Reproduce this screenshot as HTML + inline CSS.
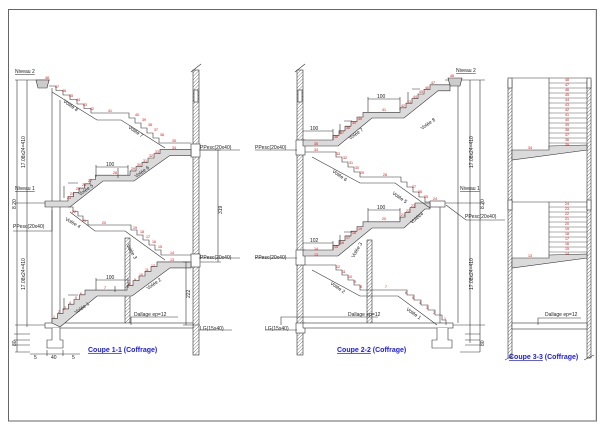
<!DOCTYPE html>
<html><head><meta charset="utf-8"><style>
html,body{margin:0;padding:0;background:#fff;}
svg{display:block;font-family:"Liberation Sans",sans-serif;}
.t{font-size:5px;fill:#222}
.r{font-size:3.6px;fill:#e00}
.c{font-size:7px;font-weight:bold;fill:#1a1aee}
</style></head><body>
<svg width="604" height="427" viewBox="0 0 604 427" xmlns="http://www.w3.org/2000/svg">
<defs>
<pattern id="h" width="3.5" height="3.5" patternUnits="userSpaceOnUse"><path d="M0,3.5 L3.5,0" stroke="#444" stroke-width="0.45"/></pattern>
</defs>
<rect x="0" y="0" width="604" height="427" fill="#fff"/>
<rect x="8.5" y="9.5" width="588" height="411.5" fill="none" stroke="#666" stroke-width="1"/>

<g stroke="#333" stroke-width="0.6" fill="none">
<!-- ========== COUPE 1-1 ========== -->
<!-- right wall -->
<rect x="193" y="70" width="6" height="285" fill="url(#h)"/>
<path d="M191,72 L201,64"/>
<rect x="194" y="90" width="4" height="12" fill="#fff"/>
<rect x="191" y="144" width="9" height="13" fill="#fff"/>
<rect x="191" y="254" width="9" height="13" fill="#fff"/>
<!-- mid wall -->
<rect x="125" y="238" width="5" height="87" fill="url(#h)"/>
<!-- verticals left -->
<path d="M17,80 V352 M27,80 V327 M52,88 V323 M60,100 V320 M15,80 H50 M15,203 H62 M15,325 H50 M15,352 H30"/>
<path d="M14,334 H30 M14,340 H30 M14,345 H30"/>
<!-- ground slab -->
<rect x="45" y="323" width="148" height="5" fill="#fff"/>
<!-- foundation -->
<path d="M52,328 V340 H47 V348 H63 V340 H60 V328" fill="#fff"/>
<path d="M30,354 H80 M47,350 V356 M63,350 V356"/>
<!-- Niveau 2 block -->
<path d="M36,80 H49 L47,88 H38 Z" fill="#ccc"/>
<!-- flight A shaded (Volee 1,2) -->
<path d="M52,323 v-4.7h5.5 v-4.7h5.5 v-4.7h5.5 v-4.7h5.5 v-4.7h5.5 v-4.7h5.5 v-4.7h5 H127 v-4.7h6 v-4.7h6 v-4.7h6 v-4.7h6 v-4.7h6 v-4.7h6 H191 v6 H170 L132,296 H97 L60,327 Z" fill="#dadada"/>
<!-- flight B shaded (Volee 5,6) -->
<path d="M45,201 H68 v-4.3h5.5 v-4.3h5.5 v-4.3h5.5 v-4.3h5.5 v-4.3h5.5 v-4.3h5.5 H130 v-4.3h6 v-4.3h6 v-4.3h6 v-4.3h6 v-4.3h6 v-4.3h6 H191 v6 H170 L134,181 H103 L70,207 H45 Z" fill="#dadada"/>
<!-- flight C lines (Volee 3,4) -->
<path d="M68,207 h5 v4.5 h5 v4.5 h5 v4.5 h5 v4.5 H125 h6 v5 h6 v5 h6 v5 h6 v5 h6 v5 h6 v5 H191"/>
<path d="M70,212 L95,231 H125 L165,260"/>
<!-- flight D lines (Volee 8,7) -->
<path d="M49,86 h7 v4.5 h7 v4.5 h7 v4.5 h7 v4.5 h7 v4.5 h7 v4.5 H123 h6 v5 h6 v5 h6 v5 h6 v5 h6 v5 h6 v5 H191"/>
<path d="M52,92 L97,120 H121 L165,148"/>
<!-- dims -->
<path d="M96,167 H128 M96,165 V177 M128,165 V175 M96,280 H128 M96,278 V290 M128,278 V288"/>
<path d="M218,150 V262 M200,150 H221 M200,262 H221 M186,262 V325 M183,262 H189 M183,325 H200"/>
<path d="M64,186 V198 M68,183 H78 M64,298 V310 M68,295 H78 M118,168 V178 M115,286 V292"/>
<!-- leaders -->
<path d="M131,325 V317 H178 M13,231 H52 V210 M199,150 H240 M199,258 H240 M199,330 H232"/>
</g>

<!-- COUPE 1-1 text -->
<text class="t" x="15" y="73" text-decoration="underline">Niveau 2</text>
<text class="t" x="15" y="190" text-decoration="underline">Niveau 1</text>
<text class="t" x="13" y="228">PPesc(20x40)</text>
<text class="t" x="200" y="149">PPesc(20x40)</text>
<text class="t" x="200" y="259">PPesc(20x40)</text>
<text class="t" x="200" y="330">LG(15x40)</text>
<text class="t" x="134" y="316">Dallage ep=12</text>
<text class="t" x="106" y="166">100</text>
<text class="t" x="106" y="279">100</text>
<text class="t" transform="translate(25,168) rotate(-90)">17.08x24=410</text>
<text class="t" transform="translate(25,290) rotate(-90)">17.08x24=410</text>
<text class="t" transform="translate(16,209) rotate(-90)">8.20</text>
<text class="t" transform="translate(222,214) rotate(-90)">319</text>
<text class="t" transform="translate(190,298) rotate(-90)">222</text>
<text class="t" transform="translate(16,346) rotate(-90)">80</text>
<text class="t" x="34" y="359">5</text><text class="t" x="51" y="359">40</text><text class="t" x="72" y="359">5</text>
<text class="t" transform="translate(63,102) rotate(35)">Volée 8</text>
<text class="t" transform="translate(128,128) rotate(35)">Volée 7</text>
<text class="t" transform="translate(136,178) rotate(-35)">Volée 6</text>
<text class="t" transform="translate(80,196) rotate(-35)">Volée 5</text>
<text class="t" transform="translate(65,220) rotate(30)">Volée 4</text>
<text class="t" transform="translate(126,245) rotate(60)">Volée 3</text>
<text class="t" transform="translate(148,290) rotate(-35)">Volée 2</text>
<text class="t" transform="translate(76,314) rotate(-35)">Volée 1</text>
<text class="c" x="88" y="352"><tspan text-decoration="underline">Coupe 1-1</tspan> (Coffrage)</text>
<g class="r">
<text x="53" y="318">1</text><text x="58" y="313">2</text><text x="64" y="309">3</text><text x="69" y="304">4</text><text x="75" y="299">5</text><text x="80" y="295">6</text><text x="104" y="289">7</text>
<text x="128" y="285">8</text><text x="134" y="281">9</text><text x="139" y="276">10</text><text x="145" y="271">11</text><text x="151" y="267">12</text><text x="170" y="261">13</text><text x="170" y="254">14</text>
<text x="158" y="248">15</text><text x="152" y="243">16</text><text x="146" y="238">17</text><text x="140" y="233">18</text><text x="133" y="229">19</text><text x="102" y="224">20</text><text x="82" y="222">21</text><text x="72" y="213">22</text>
<text x="67" y="199">23</text><text x="70" y="195">24</text><text x="76" y="190">25</text><text x="82" y="186">26</text><text x="88" y="182">27</text><text x="113" y="174">28</text>
<text x="131" y="170">29</text><text x="137" y="166">30</text><text x="143" y="162">31</text><text x="149" y="157">32</text><text x="155" y="153">33</text><text x="172" y="149">34</text><text x="172" y="142">35</text>
<text x="160" y="136">36</text><text x="154" y="131">37</text><text x="148" y="126">38</text><text x="142" y="121">39</text><text x="135" y="116">40</text><text x="108" y="112">41</text>
<text x="90" y="110">42</text><text x="83" y="106">43</text><text x="76" y="101">44</text><text x="69" y="97">45</text><text x="62" y="92">46</text><text x="55" y="88">47</text><text x="45" y="79">48</text>
</g>

<g stroke="#333" stroke-width="0.6" fill="none">
<!-- ========== COUPE 2-2 ========== -->
<rect x="297" y="70" width="6" height="285" fill="url(#h)"/>
<path d="M295,72 L305,64"/>
<rect x="298" y="90" width="4" height="12" fill="#fff"/>
<rect x="296" y="140" width="9" height="15" fill="#fff"/>
<rect x="296" y="250" width="9" height="15" fill="#fff"/>
<rect x="296" y="323" width="9" height="10" fill="#fff"/>
<rect x="367" y="240" width="5" height="85" fill="url(#h)"/>
<path d="M440,205 V325 M458,80 V323 M470,80 V343 M480,80 V352 M445,80 H485 M435,203 H485 M450,325 H485 M460,352 H480 M465,334 H480 M465,340 H480 M465,345 H480"/>
<rect x="303" y="323" width="150" height="5" fill="#fff"/>
<path d="M437,328 V340 H432 V348 H452 V340 H448 V328" fill="#fff"/>
<path d="M448,78 H462 L460,86 H450 Z" fill="#ccc"/>
<rect x="430" y="201" width="15" height="6" fill="#fff"/>
<!-- E shaded -->
<path d="M303,250 H333 v-4.7h6 v-4.7h6 v-4.7h6 v-4.7h6 v-4.7h6 v-4.7h6 H400 v-4.7h5 v-4.7h5 v-4.7h5 v-4.7h5 H430 v6 H425 L404,228 H372 L338,256 H303 Z" fill="#dadada"/>
<!-- F shaded -->
<path d="M303,140 H333 v-4.6h6 v-4.6h6 v-4.6h6 v-4.6h6 v-4.6h6 v-4.6h6 H400 v-4.6h6 v-4.6h6 v-4.6h6 v-4.6h6 v-4.6h6 v-4.6h6 H450 v6 H438 L404,118 H372 L338,146 H303 Z" fill="#dadada"/>
<!-- G lines -->
<path d="M305,152 H330 h6 v5 h6 v5 h6 v5 h6 v5 h6 v5 H395 h6 v5 h6 v5 h6 v5 h6 v5 h6 v5 H430"/>
<path d="M312,157 L360,183 H395 L430,208"/>
<!-- H lines -->
<path d="M305,265 H330 h6 v5 h6 v5 h6 v5 h6 v5 h6 v5 H400 h7 v5 h7 v5 h7 v5 h7 v5 h7 v5 h7 v5 h4 v5"/>
<path d="M312,270 L360,296 H398 L437,325"/>
<!-- dims -->
<path d="M303,131 H333 M333,129 V140 M368,99 H400 M368,97 V112 M400,97 V110 M303,243 H333 M333,241 V250 M368,210 H400 M368,208 V222 M400,208 V220"/>
<path d="M340,124 V134 M344,121 H352 M408,92 V102 M412,89 H420 M340,235 V245 M344,232 H352"/>
<path d="M281,325 V317 H378 M446,205 L466,220 H505 M255,150 H297 M255,258 H297 M265,330 H297"/>
</g>
<text class="t" x="456" y="72" text-decoration="underline">Niveau 2</text>
<text class="t" x="460" y="190" text-decoration="underline">Niveau 1</text>
<text class="t" x="465" y="218">PPesc(20x40)</text>
<text class="t" x="255" y="149">PPesc(20x40)</text>
<text class="t" x="255" y="259">PPesc(20x40)</text>
<text class="t" x="265" y="330">LG(15x40)</text>
<text class="t" x="348" y="316">Dallage ep=12</text>
<text class="t" x="310" y="130">100</text>
<text class="t" x="377" y="98">100</text>
<text class="t" x="310" y="242">102</text>
<text class="t" x="377" y="209">100</text>
<text class="t" transform="translate(473,168) rotate(-90)">17.08x24=410</text>
<text class="t" transform="translate(473,290) rotate(-90)">17.08x24=410</text>
<text class="t" transform="translate(484,209) rotate(-90)">8.20</text>
<text class="t" transform="translate(484,346) rotate(-90)">80</text>
<text class="t" transform="translate(350,140) rotate(-35)">Volée 7</text>
<text class="t" transform="translate(422,130) rotate(-35)">Volée 8</text>
<text class="t" transform="translate(332,172) rotate(35)">Volée 6</text>
<text class="t" transform="translate(392,194) rotate(35)">Volée 5</text>
<text class="t" transform="translate(412,224) rotate(-40)">Volée4</text>
<text class="t" transform="translate(354,258) rotate(-60)">Volée 3</text>
<text class="t" transform="translate(330,284) rotate(35)">Volée 2</text>
<text class="t" transform="translate(406,310) rotate(35)">Volée 1</text>
<text class="c" x="337" y="352"><tspan text-decoration="underline">Coupe 2-2</tspan> (Coffrage)</text>
<g class="r">
<text x="314" y="256">13</text><text x="314" y="250">14</text><text x="334" y="248">15</text><text x="340" y="244">16</text><text x="346" y="239">17</text><text x="352" y="234">18</text><text x="358" y="230">19</text><text x="382" y="220">20</text><text x="401" y="216">21</text><text x="406" y="212">22</text><text x="411" y="207">23</text><text x="433" y="200">24</text>
<text x="424" y="198">25</text><text x="418" y="193">26</text><text x="412" y="188">27</text><text x="383" y="176">28</text><text x="360" y="174">29</text><text x="355" y="169">30</text><text x="349" y="164">31</text><text x="343" y="159">32</text><text x="336" y="155">33</text>
<text x="314" y="151">34</text><text x="314" y="145">35</text><text x="334" y="138">36</text><text x="340" y="134">37</text><text x="346" y="129">38</text><text x="352" y="124">39</text><text x="358" y="120">40</text><text x="382" y="111">41</text>
<text x="401" y="107">42</text><text x="407" y="103">43</text><text x="413" y="98">44</text><text x="419" y="93">45</text><text x="425" y="89">46</text><text x="431" y="84">47</text><text x="450" y="77">48</text>
<text x="336" y="268">12</text><text x="342" y="273">11</text><text x="348" y="278">10</text><text x="354" y="283">9</text><text x="360" y="288">8</text><text x="385" y="288">7</text>
<text x="405" y="294">6</text><text x="412" y="299">5</text><text x="419" y="304">4</text><text x="426" y="309">3</text><text x="433" y="314">2</text><text x="444" y="320">1</text>
</g>

<g stroke="#333" stroke-width="0.6" fill="none">
<!-- ========== COUPE 3-3 ========== -->
<rect x="508" y="80" width="4" height="278" fill="url(#h)"/>
<rect x="587" y="80" width="4" height="278" fill="url(#h)"/>
<rect x="508" y="78" width="4" height="10" fill="#fff"/>
<rect x="587" y="78" width="4" height="10" fill="#fff"/>
<rect x="508" y="200" width="4" height="10" fill="#fff"/>
<rect x="587" y="200" width="4" height="10" fill="#fff"/>
<path d="M512,78 H587 M549,78 V148 M512,202 H587 M549,202 V255"/>
<path d="M549,83 H587 M549,88 H587 M549,93 H587 M549,98 H587 M549,103 H587 M549,108 H587 M549,113 H587 M549,118 H587 M549,123 H587 M549,128 H587 M549,133 H587 M549,138 H587 M549,143 H587" stroke-width="0.4"/>
<path d="M549,207 H587 M549,212 H587 M549,217 H587 M549,222 H587 M549,227 H587 M549,232 H587 M549,237 H587 M549,242 H587 M549,247 H587 M549,252 H587" stroke-width="0.4"/>
<path d="M512,150 H549 V146 L587,145 V150 L512,160 Z" fill="#dadada"/>
<path d="M512,258 H549 V255 L587,254 V258 L512,268 Z" fill="#dadada"/>
<rect x="512" y="323" width="75" height="6" fill="#fff"/>
<path d="M538,325 V318 H581"/>
<path d="M505,360 L512,356 M584,360 L594,355"/>
<path d="M596,9 V421" stroke="#999"/>
</g>
<text class="t" x="545" y="316">Dallage ep=12</text>
<text class="r" x="528" y="149">34</text>
<text class="r" x="528" y="257">13</text>
<g class="r">
<text x="565" y="81">48</text><text x="565" y="86">47</text><text x="565" y="91">46</text><text x="565" y="96">45</text><text x="565" y="101">44</text><text x="565" y="106">43</text><text x="565" y="111">42</text><text x="565" y="116">41</text><text x="565" y="121">40</text><text x="565" y="126">39</text><text x="565" y="131">38</text><text x="565" y="136">37</text><text x="565" y="141">36</text><text x="565" y="146">35</text>
<text x="565" y="205">24</text><text x="565" y="210">23</text><text x="565" y="215">22</text><text x="565" y="220">21</text><text x="565" y="225">20</text><text x="565" y="230">19</text><text x="565" y="235">18</text><text x="565" y="240">17</text><text x="565" y="245">16</text><text x="565" y="250">15</text><text x="565" y="255">14</text>
</g>
<text class="c" x="509" y="359"><tspan text-decoration="underline">Coupe 3-3</tspan> (Coffrage)</text>
</svg>
</body></html>
